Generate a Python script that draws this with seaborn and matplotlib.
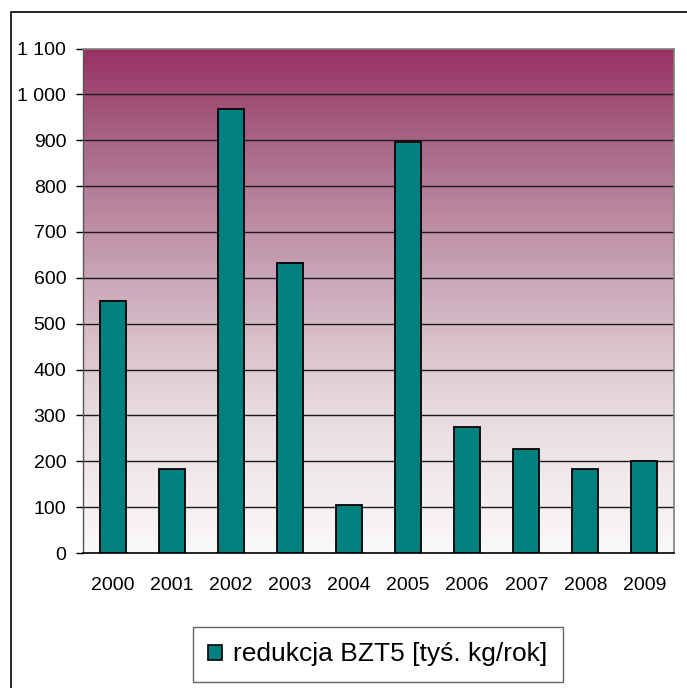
import numpy as np
import pandas as pd
import matplotlib
matplotlib.use("Agg")
import matplotlib.pyplot as plt
import seaborn as sns
from matplotlib.colors import LinearSegmentedColormap
from matplotlib.patches import Rectangle, Patch

# ---- data ----
years = ["2000", "2001", "2002", "2003", "2004", "2005", "2006", "2007", "2008", "2009"]
values = [550, 184, 967, 632, 104, 896, 275, 227, 184, 200]
series_name = "redukcja BZT5 [tyś. kg/rok]"
y_ticks = [0, 100, 200, 300, 400, 500, 600, 700, 800, 900, 1000, 1100]
y_tick_labels = ["0", "100", "200", "300", "400", "500", "600", "700", "800", "900", "1 000", "1 100"]

df = pd.DataFrame({"year": years, "value": values})

sns.set_theme(style="white")
plt.rcParams["font.family"] = ["Liberation Sans", "DejaVu Sans"]

W, H = 687, 688
fig = plt.figure(figsize=(W / 100, H / 100), dpi=100)
ax = fig.add_axes([83 / W, 1 - 553 / H, (674 - 83) / W, (553 - 48.5) / H])

TEAL = "#008080"
sns.barplot(data=df, x="year", y="value", order=years, color=TEAL, width=0.44,
            edgecolor="black", linewidth=1.3, saturation=1, ax=ax, zorder=3)

ax.set_xlim(-0.5, len(years) - 0.5)
ax.set_ylim(0, 1100)

# gradient background
cmap = LinearSegmentedColormap.from_list(
    "grad",
    [(0.0, "#fbf9fa"), (0.3, "#e6d8de"), (0.55, "#caa5b5"), (0.8, "#aa6a8a"), (1.0, "#973263")])
grad = np.linspace(0, 1, 256).reshape(-1, 1)
ax.imshow(grad, extent=[-0.5, len(years) - 0.5, 0, 1100], origin="lower",
          aspect="auto", cmap=cmap, zorder=0)

# gridlines
for t in y_ticks[1:-1]:
    ax.axhline(t, color="#1a1a1a", lw=1.0, zorder=1)

ax.set_yticks(y_ticks)
ax.set_yticklabels(y_tick_labels)
ax.set_xticks(range(len(years)))
ax.set_xticklabels(years)
ax.set_xticks(np.arange(-0.5, len(years), 1.0), minor=True)
ax.tick_params(axis="x", which="major", length=0, pad=17, labelsize=14, colors="black")
ax.tick_params(axis="x", which="minor", length=5, width=1, color="black", direction="out")
ax.tick_params(axis="y", which="major", length=5, width=1, color="black", direction="out",
               pad=7, labelsize=14, labelcolor="black", left=True)
ax.set_xlabel("")
ax.set_ylabel("")

for side in ["top", "right"]:
    ax.spines[side].set_color("#808080")
    ax.spines[side].set_linewidth(1.2)
    ax.spines[side].set_visible(True)
ax.spines["left"].set_color("#555555")
ax.spines["left"].set_linewidth(1.0)
ax.spines["bottom"].set_color("black")
ax.spines["bottom"].set_linewidth(1.2)

# outer border (top and left visible, rest clipped)
border = Rectangle((11 / W, -0.1), 1.2, (1 - 11.7 / H) + 0.1, transform=fig.transFigure,
                   fill=False, edgecolor="black", linewidth=1.2, clip_on=False)
fig.patches.append(border)

# legend
handle = Patch(facecolor=TEAL, edgecolor="black", linewidth=1.2, label=series_name)
leg = fig.legend(handles=[handle], loc="center", bbox_to_anchor=(378 / W, 1 - 654.5 / H),
                 fontsize=19, frameon=True, fancybox=False, handlelength=0.5,
                 handleheight=0.5, handletextpad=0.45, borderpad=0.6, borderaxespad=0)
leg.get_frame().set_edgecolor("#404040")
leg.get_frame().set_linewidth(1.0)
for txt in leg.get_texts():
    txt.set_color("black")

fig.savefig("out.png", dpi=100, facecolor="white")
